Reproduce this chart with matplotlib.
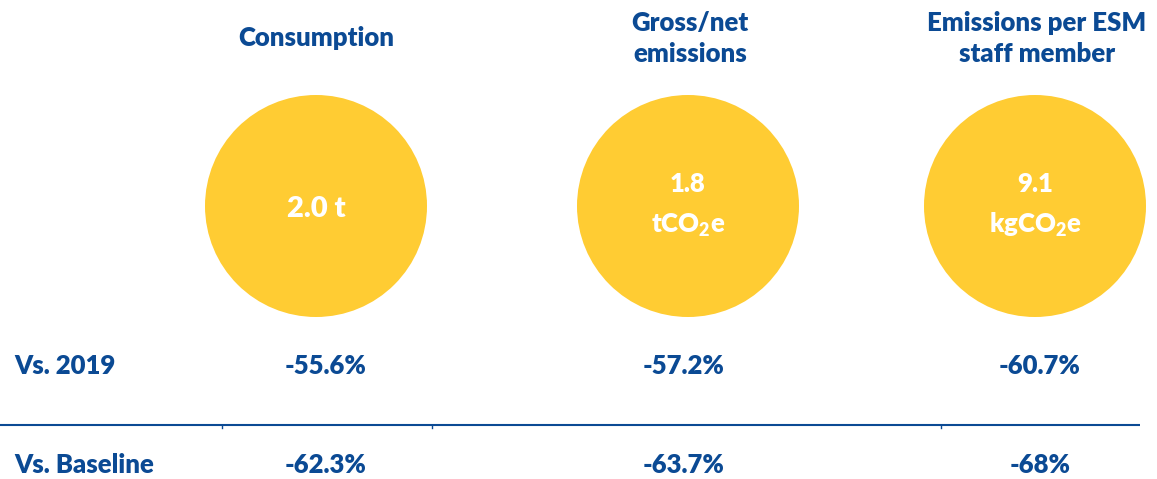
import matplotlib
matplotlib.use("Agg")
import matplotlib.pyplot as plt
from matplotlib.patches import Circle

plt.rcParams['font.family'] = ['Lato', 'DejaVu Sans']
plt.rcParams['mathtext.fontset'] = 'custom'
plt.rcParams['mathtext.rm'] = 'Lato:heavy'
plt.rcParams['mathtext.it'] = 'Lato:heavy'
plt.rcParams['mathtext.bf'] = 'Lato:heavy'

BLUE = '#0B4A94'
YELLOW = '#FFCC33'
FS = 18.5
WEIGHT = 'heavy'

# data
titles = ['Consumption', 'Gross/net\nemissions', 'Emissions per ESM\nstaff member']
circle_values = ['2.0 t', '1.8\ntCO$_2$e', '9.1\nkgCO$_2$e']
row_labels = ['Vs. 2019', 'Vs. Baseline']
vs_2019 = ['-55.6%', '-57.2%', '-60.7%']
vs_baseline = ['-62.3%', '-63.7%', '-68%']

# layout (pixel coords, y grows downwards)
title_x = [316, 690, 1037]
circle_x = [316, 688, 1035]
value_x = [326, 684, 1040]
circle_y = 206
radius = 111
row_base = [374, 473]

fig = plt.figure(figsize=(11.57, 4.79), dpi=100)
ax = fig.add_axes([0, 0, 1, 1])
ax.set_xlim(0, 1157)
ax.set_ylim(479, 0)
ax.axis('off')

for i in range(3):
    ax.text(title_x[i], 38, titles[i], ha='center', va='center', fontsize=FS,
            fontweight=WEIGHT, color=BLUE, linespacing=1.35)
    ax.add_patch(Circle((circle_x[i], circle_y), radius, color=YELLOW, lw=0))

    lines = circle_values[i].split('\n')
    if len(lines) == 1:
        ax.text(circle_x[i], 217, lines[0], ha='center', va='baseline',
                fontsize=21, fontweight=WEIGHT, color='white')
    else:
        for line, base in zip(lines, [192, 233]):
            ax.text(circle_x[i], base, line, ha='center', va='baseline',
                    fontsize=FS, fontweight=WEIGHT, color='white')

    ax.text(value_x[i], row_base[0], vs_2019[i], ha='center', va='baseline',
            fontsize=FS, fontweight=WEIGHT, color=BLUE)
    ax.text(value_x[i], row_base[1], vs_baseline[i], ha='center', va='baseline',
            fontsize=FS, fontweight=WEIGHT, color=BLUE)

for label, base in zip(row_labels, row_base):
    ax.text(14, base, label, ha='left', va='baseline', fontsize=FS,
            fontweight=WEIGHT, color=BLUE)

# separator line with small cell ticks
ax.plot([0, 1140], [425, 425], color=BLUE, lw=1.5, solid_capstyle='butt')
for tx in [222, 432, 941]:
    ax.plot([tx, tx], [425, 428], color=BLUE, lw=1)

fig.savefig('out.png', dpi=100)
